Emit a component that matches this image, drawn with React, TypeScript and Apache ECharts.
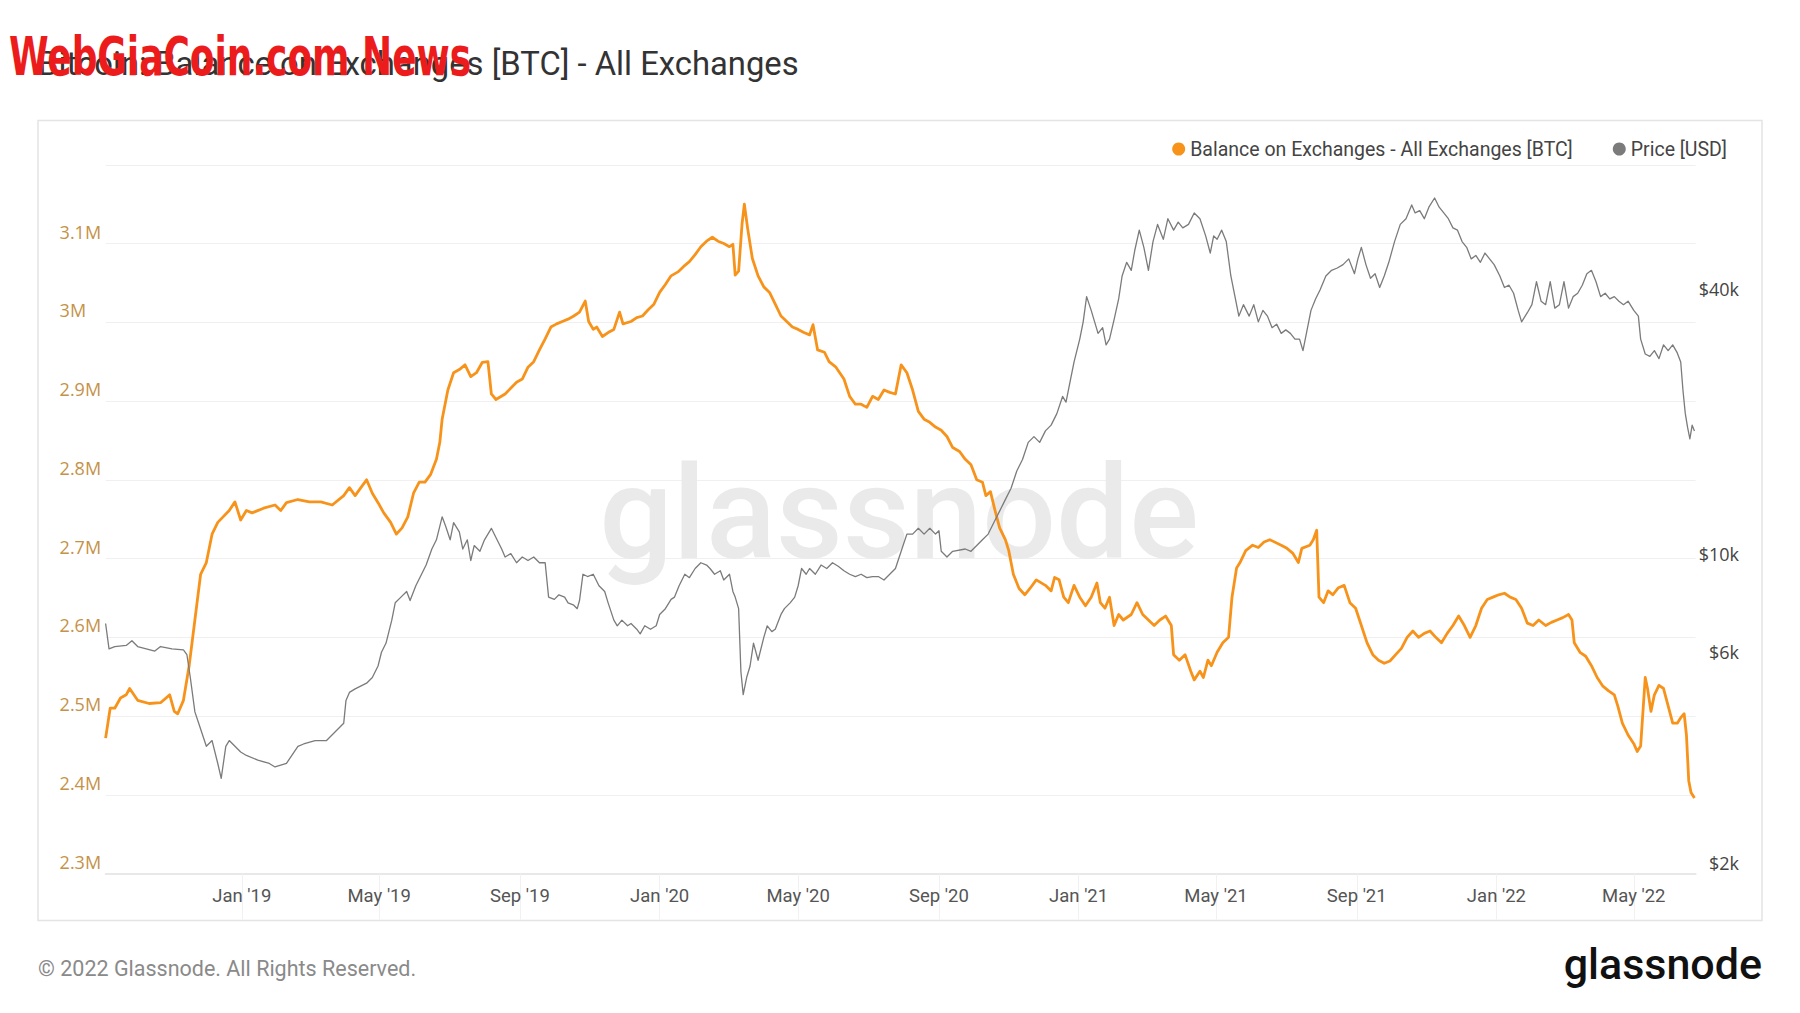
import React, { useEffect, useRef } from "react";
import * as echarts from "echarts";

// ---------- DATA ----------
const balanceDates = [
  "2018-09-04","2018-09-08","2018-09-12","2018-09-17","2018-09-22","2018-09-25","2018-10-02","2018-10-12","2018-10-22","2018-10-30",
  "2018-11-03","2018-11-06","2018-11-11","2018-11-16","2018-11-21","2018-11-26","2018-12-01","2018-12-06","2018-12-11","2018-12-21",
  "2018-12-26","2018-12-31","2019-01-05","2019-01-10","2019-01-20","2019-01-30","2019-02-04","2019-02-09","2019-02-19","2019-03-01",
  "2019-03-11","2019-03-21","2019-03-31","2019-04-05","2019-04-10","2019-04-15","2019-04-20","2019-04-25","2019-04-30","2019-05-05",
  "2019-05-11","2019-05-16","2019-05-21","2019-05-26","2019-05-31","2019-06-05","2019-06-10","2019-06-15","2019-06-20","2019-06-23",
  "2019-06-25","2019-06-30","2019-07-05","2019-07-10","2019-07-15","2019-07-20","2019-07-25","2019-07-30","2019-08-04","2019-08-07",
  "2019-08-11","2019-08-19","2019-08-29","2019-09-03","2019-09-08","2019-09-13","2019-09-18","2019-09-23","2019-09-28","2019-10-03",
  "2019-10-08","2019-10-13","2019-10-18","2019-10-23","2019-10-28","2019-10-31","2019-11-04","2019-11-07","2019-11-12","2019-11-17",
  "2019-11-22","2019-11-27","2019-11-30","2019-12-07","2019-12-12","2019-12-17","2019-12-22","2019-12-27","2020-01-01","2020-01-06",
  "2020-01-11","2020-01-17","2020-01-22","2020-01-27","2020-02-01","2020-02-06","2020-02-11","2020-02-16","2020-02-21","2020-02-26",
  "2020-03-02","2020-03-05","2020-03-07","2020-03-10","2020-03-13","2020-03-15","2020-03-18","2020-03-22","2020-03-27","2020-04-01",
  "2020-04-06","2020-04-11","2020-04-16","2020-04-21","2020-04-26","2020-05-01","2020-05-06","2020-05-11","2020-05-14","2020-05-18",
  "2020-05-24","2020-05-28","2020-06-03","2020-06-10","2020-06-15","2020-06-20","2020-06-25","2020-06-30","2020-07-05","2020-07-10",
  "2020-07-15","2020-07-20","2020-07-25","2020-07-30","2020-08-04","2020-08-09","2020-08-14","2020-08-19","2020-08-24","2020-08-29",
  "2020-09-03","2020-09-08","2020-09-13","2020-09-19","2020-09-24","2020-09-29","2020-10-04","2020-10-09","2020-10-12","2020-10-16",
  "2020-10-20","2020-10-24","2020-10-29","2020-11-01","2020-11-05","2020-11-10","2020-11-15","2020-11-20","2020-11-25","2020-12-03",
  "2020-12-08","2020-12-11","2020-12-15","2020-12-19","2020-12-23","2020-12-28","2021-01-02","2021-01-07","2021-01-12","2021-01-17",
  "2021-01-20","2021-01-24","2021-01-28","2021-02-01","2021-02-05","2021-02-09","2021-02-16","2021-02-21","2021-02-26","2021-03-03",
  "2021-03-08","2021-03-13","2021-03-18","2021-03-23","2021-03-25","2021-03-30","2021-04-04","2021-04-09","2021-04-12","2021-04-17",
  "2021-04-20","2021-04-24","2021-04-27","2021-05-02","2021-05-07","2021-05-12","2021-05-15","2021-05-19","2021-05-22","2021-05-27",
  "2021-06-02","2021-06-07","2021-06-12","2021-06-17","2021-06-27","2021-07-02","2021-07-07","2021-07-12","2021-07-15","2021-07-22",
  "2021-07-25","2021-07-28","2021-07-30","2021-08-03","2021-08-07","2021-08-11","2021-08-16","2021-08-21","2021-08-26","2021-08-31",
  "2021-09-05","2021-09-10","2021-09-15","2021-09-20","2021-09-25","2021-09-30","2021-10-05","2021-10-10","2021-10-15","2021-10-20",
  "2021-10-25","2021-10-30","2021-11-04","2021-11-09","2021-11-14","2021-11-19","2021-11-24","2021-11-29","2021-12-04","2021-12-09",
  "2021-12-14","2021-12-19","2021-12-24","2021-12-29","2022-01-03","2022-01-08","2022-01-13","2022-01-18","2022-01-23","2022-01-28",
  "2022-02-02","2022-02-07","2022-02-13","2022-02-18","2022-02-23","2022-02-28","2022-03-05","2022-03-08","2022-03-10","2022-03-15",
  "2022-03-20","2022-03-25","2022-03-30","2022-04-04","2022-04-09","2022-04-14","2022-04-17","2022-04-21","2022-04-26","2022-05-01",
  "2022-05-04","2022-05-07","2022-05-11","2022-05-13","2022-05-16","2022-05-19","2022-05-23","2022-05-27","2022-05-31","2022-06-04",
  "2022-06-08","2022-06-11","2022-06-14","2022-06-16","2022-06-18","2022-06-20","2022-06-23"
];
// million BTC
const balanceValues = [
  2.472,2.510,2.510,2.523,2.527,2.535,2.520,2.516,2.517,2.527,
  2.506,2.503,2.520,2.564,2.622,2.680,2.695,2.731,2.746,2.761,
  2.772,2.749,2.761,2.758,2.764,2.768,2.761,2.771,2.775,2.772,
  2.772,2.768,2.780,2.790,2.780,2.790,2.800,2.783,2.771,2.758,
  2.746,2.731,2.739,2.753,2.783,2.797,2.797,2.807,2.826,2.848,
  2.877,2.914,2.936,2.940,2.946,2.931,2.936,2.949,2.950,2.909,
  2.902,2.909,2.924,2.928,2.943,2.950,2.965,2.979,2.994,2.998,
  3.001,3.004,3.008,3.013,3.027,3.001,2.991,2.994,2.982,2.987,
  2.991,3.013,2.998,3.001,3.006,3.008,3.016,3.023,3.038,3.048,
  3.059,3.064,3.071,3.077,3.086,3.096,3.103,3.108,3.103,3.100,
  3.096,3.099,3.060,3.065,3.125,3.150,3.118,3.081,3.059,3.045,
  3.038,3.023,3.008,3.001,2.994,2.991,2.987,2.984,2.997,2.965,
  2.962,2.950,2.943,2.928,2.906,2.896,2.896,2.892,2.906,2.902,
  2.914,2.911,2.909,2.946,2.936,2.914,2.887,2.877,2.873,2.867,
  2.863,2.855,2.841,2.836,2.826,2.819,2.800,2.797,2.780,2.785,
  2.761,2.739,2.724,2.710,2.680,2.662,2.654,2.663,2.673,2.666,
  2.659,2.676,2.673,2.651,2.644,2.666,2.651,2.640,2.651,2.669,
  2.644,2.637,2.651,2.615,2.629,2.622,2.629,2.644,2.629,2.622,
  2.615,2.622,2.627,2.615,2.578,2.571,2.578,2.557,2.546,2.557,
  2.549,2.571,2.564,2.581,2.593,2.600,2.651,2.688,2.695,2.710,
  2.717,2.714,2.721,2.724,2.717,2.713,2.707,2.695,2.713,2.717,
  2.724,2.736,2.651,2.644,2.659,2.654,2.663,2.666,2.644,2.637,
  2.615,2.593,2.578,2.571,2.567,2.570,2.578,2.586,2.600,2.608,
  2.600,2.605,2.608,2.600,2.593,2.605,2.615,2.627,2.615,2.600,
  2.615,2.637,2.648,2.651,2.654,2.656,2.651,2.648,2.637,2.618,
  2.615,2.622,2.615,2.619,2.622,2.625,2.629,2.622,2.593,2.581,
  2.576,2.564,2.549,2.538,2.532,2.527,2.513,2.491,2.476,2.465,
  2.455,2.462,2.549,2.535,2.506,2.527,2.539,2.535,2.513,2.491,
  2.491,2.498,2.503,2.476,2.418,2.403,2.396
];

const priceDates = [
  "2018-09-04","2018-09-07","2018-09-12","2018-09-22","2018-09-27","2018-10-02","2018-10-17","2018-10-22","2018-11-01","2018-11-11",
  "2018-11-14","2018-11-17","2018-11-21","2018-11-26","2018-12-01","2018-12-06","2018-12-11","2018-12-14","2018-12-18","2018-12-21",
  "2018-12-26","2018-12-31","2019-01-05","2019-01-15","2019-01-25","2019-01-30","2019-02-09","2019-02-19","2019-02-24","2019-03-06",
  "2019-03-16","2019-03-21","2019-03-31","2019-04-02","2019-04-05","2019-04-10","2019-04-20","2019-04-25","2019-04-30","2019-05-03",
  "2019-05-07","2019-05-12","2019-05-15","2019-05-20","2019-05-25","2019-05-28","2019-06-02","2019-06-07","2019-06-11","2019-06-16",
  "2019-06-20","2019-06-25","2019-06-28","2019-07-02","2019-07-05","2019-07-10","2019-07-13","2019-07-17","2019-07-20","2019-07-23",
  "2019-07-28","2019-08-01","2019-08-07","2019-08-11","2019-08-16","2019-08-19","2019-08-24","2019-08-29","2019-09-03","2019-09-08",
  "2019-09-13","2019-09-18","2019-09-23","2019-09-26","2019-10-01","2019-10-05","2019-10-10","2019-10-13","2019-10-18","2019-10-21",
  "2019-10-23","2019-10-26","2019-10-30","2019-11-04","2019-11-09","2019-11-14","2019-11-17","2019-11-22","2019-11-25","2019-11-29",
  "2019-12-04","2019-12-07","2019-12-12","2019-12-15","2019-12-19","2019-12-24","2019-12-29","2020-01-01","2020-01-06","2020-01-11",
  "2020-01-14","2020-01-18","2020-01-23","2020-01-27","2020-02-01","2020-02-06","2020-02-11","2020-02-14","2020-02-18","2020-02-23",
  "2020-02-26","2020-03-02","2020-03-05","2020-03-07","2020-03-10","2020-03-12","2020-03-14","2020-03-17","2020-03-20","2020-03-23",
  "2020-03-27","2020-04-01","2020-04-04","2020-04-08","2020-04-11","2020-04-16","2020-04-19","2020-04-24","2020-04-28","2020-05-01",
  "2020-05-04","2020-05-08","2020-05-11","2020-05-16","2020-05-21","2020-05-26","2020-05-31","2020-06-05","2020-06-10","2020-06-15",
  "2020-06-20","2020-06-25","2020-06-30","2020-07-05","2020-07-10","2020-07-15","2020-07-20","2020-07-25","2020-07-30","2020-08-04",
  "2020-08-09","2020-08-14","2020-08-19","2020-08-24","2020-08-29","2020-09-01","2020-09-03","2020-09-08","2020-09-13","2020-09-24",
  "2020-09-29","2020-10-04","2020-10-09","2020-10-14","2020-10-19","2020-10-24","2020-10-29","2020-11-03","2020-11-08","2020-11-13",
  "2020-11-18","2020-11-23","2020-11-28","2020-12-03","2020-12-08","2020-12-13","2020-12-18","2020-12-21","2020-12-25","2020-12-28",
  "2021-01-02","2021-01-05","2021-01-08","2021-01-12","2021-01-15","2021-01-18","2021-01-22","2021-01-25","2021-01-28","2021-02-01",
  "2021-02-05","2021-02-08","2021-02-12","2021-02-16","2021-02-19","2021-02-23","2021-02-27","2021-03-03","2021-03-07","2021-03-11",
  "2021-03-16","2021-03-20","2021-03-25","2021-03-29","2021-04-02","2021-04-07","2021-04-12","2021-04-17","2021-04-22","2021-04-26",
  "2021-04-29","2021-05-02","2021-05-06","2021-05-10","2021-05-14","2021-05-18","2021-05-21","2021-05-25","2021-05-30","2021-06-03",
  "2021-06-07","2021-06-11","2021-06-15","2021-06-19","2021-06-23","2021-06-27","2021-07-01","2021-07-05","2021-07-09","2021-07-13",
  "2021-07-16","2021-07-19","2021-07-23","2021-07-27","2021-07-31","2021-08-05","2021-08-10","2021-08-15","2021-08-20","2021-08-25",
  "2021-08-30","2021-09-02","2021-09-05","2021-09-09","2021-09-13","2021-09-17","2021-09-21","2021-09-25","2021-09-29","2021-10-04",
  "2021-10-09","2021-10-14","2021-10-19","2021-10-22","2021-10-26","2021-10-30","2021-11-03","2021-11-08","2021-11-12","2021-11-16",
  "2021-11-20","2021-11-24","2021-11-28","2021-12-02","2021-12-06","2021-12-10","2021-12-14","2021-12-18","2021-12-22","2021-12-26",
  "2021-12-30","2022-01-04","2022-01-08","2022-01-12","2022-01-16","2022-01-20","2022-01-23","2022-01-28","2022-02-01","2022-02-05",
  "2022-02-09","2022-02-13","2022-02-17","2022-02-21","2022-02-25","2022-03-01","2022-03-05","2022-03-09","2022-03-13","2022-03-17",
  "2022-03-21","2022-03-25","2022-03-29","2022-04-02","2022-04-06","2022-04-10","2022-04-14","2022-04-18","2022-04-22","2022-04-26",
  "2022-05-01","2022-05-05","2022-05-07","2022-05-11","2022-05-15","2022-05-19","2022-05-23","2022-05-27","2022-05-31","2022-06-04",
  "2022-06-08","2022-06-11","2022-06-13","2022-06-15","2022-06-17","2022-06-19","2022-06-21","2022-06-23"
];
// USD
const priceValues = [
  7385,6471,6549,6588,6748,6549,6394,6549,6471,6433,
  6281,5570,4655,4255,3889,4007,3555,3289,3889,4007,
  3889,3775,3707,3619,3555,3491,3555,3889,3936,4007,
  4007,4130,4385,4942,5154,5248,5408,5570,5915,6356,
  6668,7516,8228,8478,8730,8327,8996,9554,10023,10900,
  11435,12895,12290,11435,12515,11925,10900,11435,10265,11097,
  10770,11435,12143,11573,10900,10452,10641,10144,10452,10265,
  10452,10144,10144,8478,8377,8580,8478,8228,8126,7981,
  8327,9554,9440,9554,8996,8730,8228,7516,7298,7516,
  7298,7385,7168,6996,7298,7168,7298,7744,7981,8377,
  8478,8996,9554,9384,9845,10144,10023,9845,9554,9727,
  9272,9554,8730,8478,7981,5741,5093,5570,5915,6668,
  6095,6871,7298,7080,7168,7744,7981,8228,8478,8996,
  9845,9554,9845,9554,10023,9845,10144,9963,9727,9554,
  9440,9554,9384,9440,9440,9272,9554,9845,10770,11783,
  11783,12143,11783,12143,11783,11995,10770,10452,10770,10900,
  10770,11097,11435,11783,12515,13286,14104,14972,16380,17394,
  19027,19605,19027,20201,20815,22105,24186,23473,26459,28945,
  32631,35701,40730,37910,35701,33620,34640,31667,32631,36131,
  40245,45372,48733,46731,51761,57649,52700,46731,54300,59400,
  54950,61200,57649,60120,58340,59400,63070,61200,55950,51150,
  55950,54950,57649,54300,45372,40245,36790,39060,36790,39060,
  35701,37910,36790,34640,35280,33620,34240,33620,32631,32631,
  30730,33620,37910,40245,42220,45372,46731,47300,48150,49610,
  45910,49610,52700,48150,44830,45910,42730,45372,48733,54300,
  59400,61200,65770,63070,63830,61200,64990,68190,64990,63070,
  61200,58340,57649,54300,52700,49610,50510,48733,51150,49610,
  48150,45372,42730,43240,41460,37910,35701,37450,39060,44030,
  39770,39060,44030,38360,39060,44030,38360,40730,41460,43240,
  45910,46731,44030,40730,41460,40245,40730,39770,39060,39770,
  37910,36790,32631,30180,29820,30730,29470,31667,30730,31667,
  30360,28945,24920,22105,20570,19370,20815,20201
];

const balanceAxisMin = 2.3;
const balanceAxisMax = 3.2;
const balanceAxisStep = 0.1;
const priceAxisMin = 2000;
const priceAxisMax = 81100;
const priceTicks = [2000, 6000, 10000, 40000];
const monthTicks = [
  "2019-01-01","2019-05-01","2019-09-01","2020-01-01","2020-05-01","2020-09-01",
  "2021-01-01","2021-05-01","2021-09-01","2022-01-01","2022-05-01"
];
const monthNames = ["Jan","Feb","Mar","Apr","May","Jun","Jul","Aug","Sep","Oct","Nov","Dec"];
const xStart = "2018-09-04";
const xEnd = "2022-06-24";

const titleText = "Bitcoin: Balance on Exchanges [BTC] - All Exchanges";
const balanceName = "Balance on Exchanges - All Exchanges [BTC]";
const priceName = "Price [USD]";
const footerText = "© 2022 Glassnode. All Rights Reserved.";
const overlayText = "WebGiaCoin.com News";

// ---------- helpers ----------
const toTs = (s: string) => {
  const [y, m, d] = s.split("-").map(Number);
  return Date.UTC(y, m - 1, d);
};
const fmtPrice = (v: number) => "$" + Math.round(v / 1000) + "k";

const ORANGE = "#f7931a";
const GRAY = "#7b7b7b";
const NUM_FONT = "'Open Sans', 'DejaVu Sans', sans-serif";
const TXT_FONT = "Roboto, 'Noto Sans', sans-serif";

export default function App() {
  const ref = useRef<HTMLDivElement>(null);

  useEffect(() => {
    if (!ref.current) return;
    const chart = echarts.init(ref.current, null, { renderer: "svg" });

    const balanceData = balanceDates.map((d, i) => [toTs(d), balanceValues[i]]);
    const priceData = priceDates.map((d, i) => [toTs(d), priceValues[i]]);
    const monthTs = monthTicks.map(toTs);

    chart.setOption({
      animation: false,
      backgroundColor: "#ffffff",
      grid: { left: 105.6, right: 104.4, top: 164.8, bottom: 139.4, containLabel: false },
      legend: {
        right: 68,
        top: 134,
        icon: "circle",
        itemWidth: 13,
        itemHeight: 13,
        itemGap: 40,
        textStyle: { fontSize: 19.5, color: "#444", fontFamily: TXT_FONT },
        data: [
          { name: balanceName, itemStyle: { color: ORANGE } },
          { name: priceName, itemStyle: { color: GRAY } },
        ],
      },
      xAxis: {
        type: "value",
        min: toTs(xStart),
        max: toTs(xEnd),
        splitLine: { show: false },
        axisLine: { show: true, lineStyle: { color: "#e8e8e8", width: 2 } },
        axisTick: {
          show: true,
          customValues: monthTs,
          length: 46,
          lineStyle: { color: "#f1f1f1", width: 1 },
        },
        axisLabel: {
          customValues: monthTs,
          margin: 13,
          fontSize: 18.5,
          color: "#555",
          fontFamily: TXT_FONT,
          formatter: (val: number) => {
            const d = new Date(val);
            return `${monthNames[d.getUTCMonth()]} '${String(d.getUTCFullYear()).slice(2)}`;
          },
        },
      },
      yAxis: [
        {
          type: "value",
          position: "left",
          min: balanceAxisMin,
          max: balanceAxisMax,
          interval: balanceAxisStep,
          axisLine: { show: false },
          axisTick: { show: false },
          splitLine: { show: true, lineStyle: { color: "#f0f0f0", width: 1 } },
          axisLabel: {
            showMaxLabel: false,
            align: "left",
            verticalAlign: "bottom",
            padding: [0, 0, 3, 0],
            margin: 46,
            fontSize: 18,
            color: "#c59248",
            fontFamily: NUM_FONT,
            formatter: (v: number) => `${parseFloat(v.toFixed(2))}M`,
          },
        },
        {
          type: "log",
          position: "right",
          logBase: 10,
          min: priceAxisMin,
          max: priceAxisMax,
          axisLine: { show: false },
          axisTick: { show: false },
          splitLine: { show: false },
          axisLabel: { show: false },
        },
      ],
      series: [
        {
          name: balanceName,
          type: "line",
          yAxisIndex: 0,
          data: balanceData,
          showSymbol: false,
          symbol: "none",
          lineStyle: { color: ORANGE, width: 2.8, join: "round" },
          itemStyle: { color: ORANGE },
          z: 3,
        },
        {
          name: priceName,
          type: "line",
          yAxisIndex: 1,
          data: priceData,
          showSymbol: false,
          symbol: "none",
          lineStyle: { color: GRAY, width: 1.3, join: "round" },
          itemStyle: { color: GRAY },
          z: 4,
        },
      ],
    });

    const priceLabels = priceTicks.map((v, i) => {
      const y = chart.convertToPixel({ yAxisIndex: 1 }, v) as number;
      return {
        id: "price-tick-" + i,
        type: "text",
        x: 1739,
        y: y - 11,
        silent: true,
        z: 10,
        style: {
          text: fmtPrice(v),
          fontSize: 18,
          fontFamily: NUM_FONT,
          fill: "#444",
          align: "right",
          verticalAlign: "middle",
        },
      };
    });

    chart.setOption({
      graphic: [
        {
          id: "frame",
          type: "rect",
          silent: true,
          z: 0,
          shape: { x: 38, y: 120.5, width: 1724, height: 800 },
          style: { fill: "none", stroke: "#e4e4e4", lineWidth: 1.5 },
        },
        {
          id: "wm",
          type: "text",
          x: 899,
          y: 513,
          silent: true,
          z: 0,
          style: {
            text: "glassnode",
            fontSize: 130,
            fontWeight: 500,
            fontFamily: TXT_FONT,
            fill: "#eaeaea",
            align: "center",
            verticalAlign: "middle",
          },
        },
        {
          id: "title",
          type: "text",
          x: 38,
          y: 64,
          silent: true,
          z: 5,
          style: {
            text: titleText,
            fontSize: 32.8,
            fontFamily: TXT_FONT,
            fill: "#333",
            align: "left",
            verticalAlign: "middle",
          },
        },
        {
          id: "overlay",
          type: "text",
          x: 9,
          y: 56,
          scaleX: 0.74,
          silent: true,
          z: 20,
          style: {
            text: overlayText,
            fontSize: 54,
            fontWeight: "bold",
            fontFamily: "'Liberation Sans Narrow', 'DejaVu Sans Condensed', sans-serif",
            fill: "#ec1c1c",
            align: "left",
            verticalAlign: "middle",
          },
        },
        {
          id: "footer",
          type: "text",
          x: 38,
          y: 968,
          silent: true,
          z: 5,
          style: {
            text: footerText,
            fontSize: 21.5,
            fontFamily: TXT_FONT,
            fill: "#8a8a8a",
            align: "left",
            verticalAlign: "middle",
          },
        },
        {
          id: "logo",
          type: "text",
          x: 1762,
          y: 964,
          silent: true,
          z: 5,
          style: {
            text: "glassnode",
            fontSize: 43,
            fontWeight: 500,
            fontFamily: TXT_FONT,
            fill: "#111",
            align: "right",
            verticalAlign: "middle",
          },
        },
        ...priceLabels,
      ],
    });

    return () => chart.dispose();
  }, []);

  return (
    <div
      ref={ref}
      style={{ position: "fixed", left: 0, top: 0, width: 1800, height: 1013, background: "#fff" }}
    />
  );
}
